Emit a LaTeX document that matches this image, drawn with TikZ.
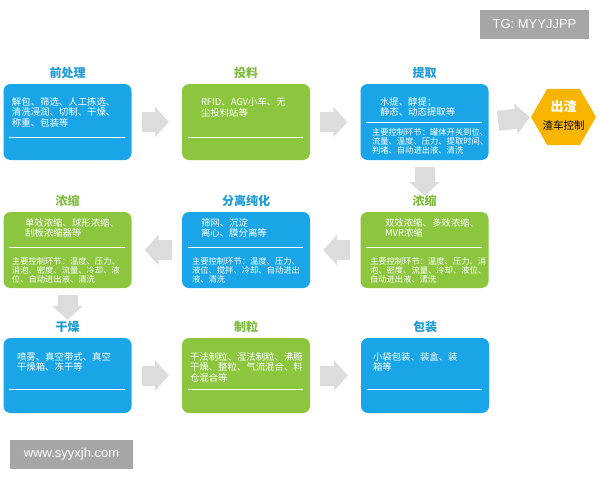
\documentclass[tikz,border=0pt]{standalone}
\usepackage{fontspec}
\setmainfont{Noto Sans CJK SC}
\newfontfamily\tagfont{Liberation Sans}
\usetikzlibrary{arrows.meta,positioning,shapes.geometric,calc}
\definecolor{boxblue}{HTML}{1AA5E8}
\definecolor{boxgreen}{HTML}{8CC63F}
\definecolor{titleblue}{HTML}{1E9BD7}
\definecolor{titlegreen}{HTML}{7DBB3A}
\definecolor{arrowgray}{HTML}{DCDCDC}
\definecolor{slagyellow}{HTML}{F8B500}
\definecolor{taggray}{HTML}{A6A6A6}

\begin{document}
\begin{tikzpicture}[x=1pt, y=-1pt,
  box/.style={rounded corners=7pt, minimum width=128pt, minimum height=76pt, inner sep=0pt},
  bluebox/.style={box, fill=boxblue},
  greenbox/.style={box, fill=boxgreen},
  boxtitle/.style={inner sep=0pt, font=\fontsize{12}{14}\selectfont\bfseries},
  desctext/.style={inner sep=0pt, align=left, text=white, font=\fontsize{9.4}{10.5}\selectfont},
  ctrltext/.style={inner sep=0pt, align=left, text=white, font=\fontsize{8.3}{9.4}\selectfont},
  sepline/.style={white, line width=0.6pt},
  flowarrow/.style={arrowgray, line width=20pt, -{Triangle[width=30pt,length=14pt]}},
  tagbox/.style={fill=taggray, text=white, inner sep=0pt, minimum height=29pt, font=\tagfont\fontsize{13}{15}\selectfont}]
\useasboundingbox (0,0) rectangle (600,480);
\fill[white] (0,0) rectangle (600,480);

% boxes
\node[bluebox]  (pre)   at (67.5,122) {};
\node[greenbox] (feed)  at (246,122)  {};
\node[bluebox]  (extr)  at (424.5,122) {};
\node[greenbox] (conc1) at (67.5,250) {};
\node[bluebox]  (purif) at (246,250)  {};
\node[greenbox] (conc2) at (424.5,250) {};
\node[bluebox, minimum height=75pt]  (dry)  at (67.5,375.5) {};
\node[greenbox, minimum height=75pt] (gran) at (246,375.5)  {};
\node[bluebox, minimum height=75pt]  (pack) at (425,375.5)  {};
\node[regular polygon, regular polygon sides=6, minimum size=65pt, fill=slagyellow, inner sep=0pt] (slag) at (563.5,117) {};

% titles
\node[boxtitle, text=titleblue,  above=5pt of pre]   (preT)   {前处理};
\node[boxtitle, text=titlegreen, above=5pt of feed]  (feedT)  {投料};
\node[boxtitle, text=titleblue,  above=5pt of extr]  (extrT)  {提取};
\node[boxtitle, text=titlegreen, above=5pt of conc1] (conc1T) {浓缩};
\node[boxtitle, text=titleblue,  above=5pt of purif] (purifT) {分离纯化};
\node[boxtitle, text=titlegreen, above=5pt of conc2] (conc2T) {浓缩};
\node[boxtitle, text=titleblue,  above=5pt of dry]   (dryT)   {干燥};
\node[boxtitle, text=titlegreen, above=5pt of gran]  (granT)  {制粒};
\node[boxtitle, text=titleblue,  above=5pt of pack]  (packT)  {包装};
\node[inner sep=0pt, text=white, font=\fontsize{13}{15}\selectfont\bfseries] (slagT) at ([yshift=10pt]slag.center) {出渣};
\node[inner sep=0pt, font=\fontsize{10.5}{12}\selectfont] (slagD) at ([yshift=-8pt]slag.center) {渣车控制};

% texts
\node[desctext, below right=13.5pt and 8.5pt of pre.north west] (preD) {解包、筛选、人工拣选、\\清洗浸润、切制、干燥、\\称重、包装等};
\node[desctext, below right=14pt and 19pt of feed.north west] (feedD) {RFID、AGV小车、无\\尘投料站等};
\node[desctext, below right=13.5pt and 19.5pt of extr.north west] (extrD) {水提、醇提；\\静态、动态提取等};
\node[ctrltext, below right=44pt and 11.5pt of extr.north west] (extrC) {主要控制环节：罐体开关到位、\\流量、温度、压力、提取时间、\\判堵、自动进出液、清洗};
\node[desctext, below right=6.5pt and 21.5pt of conc1.north west] (conc1D) {单效浓缩、球形浓缩、\\刮板浓缩器等};
\node[ctrltext, below right=45pt and 8.5pt of conc1.north west] (conc1C) {主要控制环节：温度、压力、\\消泡、密度、流量、冷却、液\\位、自动进出液、清洗};
\node[desctext, below right=6.5pt and 19pt of purif.north west] (purifD) {筛网、沉淀\\离心、膜分离等};
\node[ctrltext, below right=45pt and 10pt of purif.north west] (purifC) {主要控制环节：温度、压力、\\液位、搅拌、冷却、自动进出\\液、清洗};
\node[desctext, below right=6.5pt and 24.5pt of conc2.north west] (conc2D) {双效浓缩、多效浓缩、\\MVR浓缩};
\node[ctrltext, below right=45pt and 9.5pt of conc2.north west] (conc2C) {主要控制环节：温度、压力、消\\泡、密度、流量、冷却、液位、\\自动进出液、清洗};
\node[desctext, below right=14.5pt and 13.5pt of dry.north west] (dryD) {喷雾、真空带式、真空\\干燥箱、冻干等};
\node[desctext, below right=14.5pt and 8pt of gran.north west] (granD) {干法制粒、湿法制粒、沸腾\\干燥、整粒、气流混合、料\\仓混合等};
\node[desctext, below right=14.5pt and 12pt of pack.north west] (packD) {小袋包装、装盒、装\\箱等};

% separator lines
\foreach \b/\d in {pre/53, feed/53, extr/38, conc1/35, purif/35, conc2/35, dry/51, gran/51, pack/51}
  \draw[sepline] ([shift={(6pt,-\d pt)}]\b.north west) -- ([shift={(-7pt,-\d pt)}]\b.north east);

% flow
\draw[flowarrow, shorten <=10pt, shorten >=13pt] (pre) -- (feed);
\draw[flowarrow, shorten <=10pt, shorten >=13pt] (feed) -- (extr);
\draw[flowarrow, shorten <=9.5pt, shorten >=1pt] (extr.east) -- (slag.west);
\draw[flowarrow, shorten <=7pt, shorten >=16pt] (extr) -- (conc2);
\draw[flowarrow, shorten <=10pt, shorten >=13pt] (conc2) -- (purif);
\draw[flowarrow, shorten <=10pt, shorten >=13pt] (purif) -- (conc1);
\draw[flowarrow, shorten <=7pt, shorten >=18pt] (conc1) -- (dry);
\draw[flowarrow, shorten <=10pt, shorten >=13pt] (dry) -- (gran);
\draw[flowarrow, shorten <=10pt, shorten >=13pt] (gran) -- (pack);

% marks
\node[tagbox, minimum width=109pt] (tg)  at (534.5,24.5) {TG: MYYJJPP};
\node[tagbox, minimum width=123pt] (web) at (71.5,454.5) {www.syyxjh.com};
\end{tikzpicture}
\end{document}
